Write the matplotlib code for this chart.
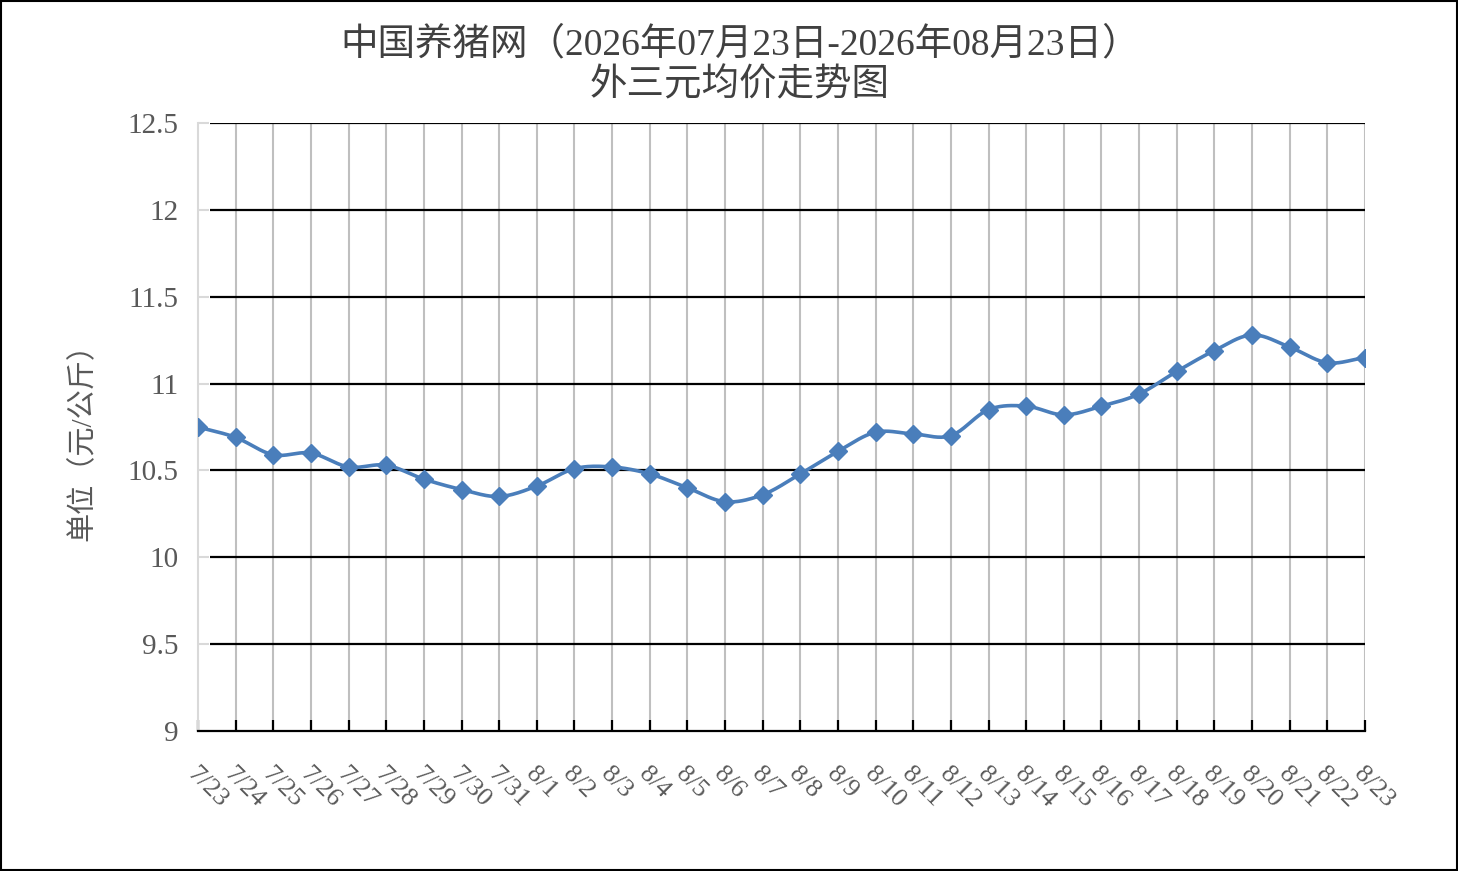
import numpy as np
import matplotlib
matplotlib.use("Agg")
import matplotlib.pyplot as plt
from matplotlib.patches import Rectangle

# data
dates = ["7/23", "7/24", "7/25", "7/26", "7/27", "7/28", "7/29", "7/30", "7/31",
         "8/1", "8/2", "8/3", "8/4", "8/5", "8/6", "8/7", "8/8", "8/9", "8/10",
         "8/11", "8/12", "8/13", "8/14", "8/15", "8/16", "8/17", "8/18", "8/19",
         "8/20", "8/21", "8/22", "8/23"]
prices = [10.75, 10.69, 10.59, 10.60, 10.52, 10.53, 10.45, 10.39, 10.35,
          10.41, 10.51, 10.52, 10.48, 10.40, 10.32, 10.36, 10.48, 10.61, 10.72,
          10.71, 10.70, 10.85, 10.87, 10.82, 10.87, 10.94, 11.07, 11.19,
          11.28, 11.21, 11.12, 11.15]
yticks = [9, 9.5, 10, 10.5, 11, 11.5, 12, 12.5]

title = "中国养猪网（2026年07月23日-2026年08月23日）\n外三元均价走势图"
ylabel = "单位（元/公斤）"

serif_cjk = ["Liberation Serif", "Noto Sans CJK SC"]
text_col = "#595959"
line_col = "#4a7ebb"


def smooth(x, y, n=20):
    # catmull-rom curve through the points, like excel's smoothed line
    x = np.asarray(x, float)
    y = np.asarray(y, float)
    px = np.concatenate([[2 * x[0] - x[1]], x, [2 * x[-1] - x[-2]]])
    py = np.concatenate([[2 * y[0] - y[1]], y, [2 * y[-1] - y[-2]]])
    t = np.linspace(0, 1, n, endpoint=False)
    xs, ys = [], []
    for i in range(1, len(px) - 2):
        for p, out in ((px, xs), (py, ys)):
            p0, p1, p2, p3 = p[i - 1], p[i], p[i + 1], p[i + 2]
            out.extend(0.5 * (2 * p1 + (-p0 + p2) * t
                              + (2 * p0 - 5 * p1 + 4 * p2 - p3) * t ** 2
                              + (-p0 + 3 * p1 - 3 * p2 + p3) * t ** 3))
    xs.append(x[-1])
    ys.append(y[-1])
    return np.array(xs), np.array(ys)


fig = plt.figure(figsize=(14.58, 8.71), dpi=100)
ax = fig.add_axes([198 / 1458, 140 / 871, 1167 / 1458, 608 / 871])

x = np.arange(len(dates))
ax.set_xlim(0, len(dates) - 1)
ax.set_ylim(9, 12.5)

# grid
ax.vlines(x[1:], 9, 12.5, color="#bfbfbf", lw=1.5, zorder=1)
ax.hlines(yticks[1:], 0.32, len(dates) - 1, color="black", lw=1.6, zorder=1)

sx, sy = smooth(x, prices)
ax.plot(sx, sy, color=line_col, lw=2.6, zorder=3, solid_capstyle="round")
ax.plot(x, prices, ls="none", marker="D", ms=9, color=line_col, zorder=4)

for s in ["top", "right"]:
    ax.spines[s].set_visible(False)
ax.spines["left"].set_color("#d9d9d9")
ax.spines["left"].set_linewidth(1.5)
ax.spines["bottom"].set_color("black")
ax.spines["bottom"].set_linewidth(1.6)

ax.set_yticks(yticks)
ax.set_yticklabels(["%g" % v for v in yticks], family=serif_cjk, fontsize=21, color=text_col)
ax.tick_params(axis="y", direction="in", length=8, width=1.5, color="#d9d9d9", pad=14)

ax.set_xticks(x)
ax.set_xticklabels(dates, family=serif_cjk, fontsize=19, color=text_col,
                   rotation=-45, ha="left", va="top", rotation_mode="anchor")
ax.tick_params(axis="x", direction="in", length=8, width=1.6, color="black", pad=23)

fig.text(83 / 1458, 1 - 435 / 871, ylabel, rotation=90, ha="center", va="center",
         family=serif_cjk, fontsize=21, color=text_col)
fig.text(740 / 1458, 1 - 65 / 871, title, ha="center", va="center", linespacing=1.2,
         family=serif_cjk, fontsize=27, color="#404040")

fig.patches.append(Rectangle((0.001, 0.001), 0.998, 0.998, transform=fig.transFigure,
                             fill=False, edgecolor="black", lw=1.5))

fig.savefig("out.png", dpi=100)
